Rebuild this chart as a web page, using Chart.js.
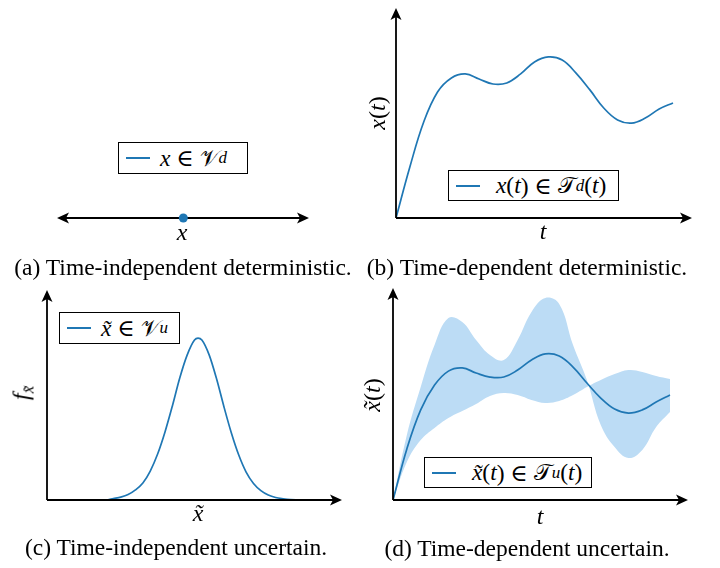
<!DOCTYPE html>
<html>
<head>
<meta charset="utf-8">
<script src="https://cdn.jsdelivr.net/npm/chart.js@4"></script>
<style>
  body { margin: 0; background: #fff; width: 720px; height: 568px; position: relative; overflow: hidden;
         font-family: "Liberation Serif", "DejaVu Serif", serif; color: #000; }
  .panel { position: absolute; width: 360px; height: 250px; }
  .cap { position: absolute; font-size: 23.5px; white-space: nowrap; transform: translate(-50%, -50%); }
  .lbl { position: absolute; font-size: 24px; font-style: italic; white-space: nowrap; transform: translate(-50%, -50%); }
  .rot { transform: translate(-50%, -50%) rotate(-90deg); }
  .legend { position: absolute; border: 1.5px solid #000; background: #fff; box-sizing: border-box;
            font-size: 23.5px; white-space: nowrap; display: flex; align-items: center; }
  .legend .sw { display: inline-block; width: 24px; border-top: 2px solid #1f77b4; margin: 0 10px 0 7px; }
  .cal { font-style: normal; font-family: "DejaVu Sans", "Noto Sans", sans-serif; font-size: 23px; }
  sub { font-size: 17px; vertical-align: -5px; line-height: 0; }
</style>
</head>
<body>
<canvas id="chartA" class="panel" style="left:0;top:0"></canvas>
<canvas id="chartB" class="panel" style="left:360px;top:0"></canvas>
<canvas id="chartC" class="panel" style="left:0;top:280px"></canvas>
<canvas id="chartD" class="panel" style="left:360px;top:280px"></canvas>

<!-- legends -->
<div class="legend" style="left:118px;top:142px;width:130px;height:32px"><span class="sw"></span><i>x</i>&nbsp;∈&nbsp;<span class="cal">𝒱</span><sub><i>d</i></sub></div>
<div class="legend" style="left:448px;top:170px;width:171px;height:31px"><span class="sw"></span>&nbsp;<i>x</i>(<i>t</i>)&nbsp;∈&nbsp;<span class="cal">𝒯</span><sub><i>d</i></sub>(<i>t</i>)</div>
<div class="legend" style="left:59px;top:312px;width:121px;height:32px"><span class="sw"></span><i>x̃</i>&nbsp;∈&nbsp;<span class="cal">𝒱</span><sub><i>u</i></sub></div>
<div class="legend" style="left:424px;top:457px;width:168px;height:31px"><span class="sw"></span>&nbsp;<i>x̃</i>(<i>t</i>)&nbsp;∈&nbsp;<span class="cal">𝒯</span><sub><i>u</i></sub>(<i>t</i>)</div>

<!-- axis labels -->
<div class="lbl" style="left:182px;top:232px">x</div>
<div class="lbl rot" style="left:377px;top:113px"><i>x</i><span style="font-style:normal">(</span>t<span style="font-style:normal">)</span></div>
<div class="lbl" style="left:543px;top:231px">t</div>
<div class="lbl rot" style="left:21px;top:393px">f<sub>x̃</sub></div>
<div class="lbl" style="left:198px;top:513px">x̃</div>
<div class="lbl rot" style="left:372px;top:395px">x̃<span style="font-style:normal">(</span>t<span style="font-style:normal">)</span></div>
<div class="lbl" style="left:540px;top:516px">t</div>

<!-- captions -->
<div class="cap" style="left:183px;top:267px">(a) Time-independent deterministic.</div>
<div class="cap" style="left:527px;top:267px">(b) Time-dependent deterministic.</div>
<div class="cap" style="left:176px;top:547px">(c) Time-independent uncertain.</div>
<div class="cap" style="left:527px;top:548px">(d) Time-dependent uncertain.</div>

<script>
// (a) a single deterministic value on a number line
const pointX = [0];
const pointY = [0];

// (b) and (d) time grid
const tGrid = [0, 0.5, 1, 1.5, 2, 2.5, 3, 3.5, 4, 4.5, 5, 5.5, 6, 6.5, 7, 7.5, 8, 8.5, 9, 9.5, 10];

// (b) deterministic trajectory
const xDet = [0, 2.43, 4.57, 6.0, 6.67, 6.86, 6.62, 6.38, 6.43, 6.86, 7.43, 7.67, 7.52, 6.90, 6.10, 5.24, 4.67, 4.52, 4.76, 5.19, 5.48];

// (d) mean trajectory and the two envelope curves of the uncertainty band
const xMean = [0, 2.41, 4.25, 5.42, 6.08, 6.23, 5.99, 5.80, 5.80, 6.13, 6.60, 6.89, 6.79, 6.27, 5.52, 4.81, 4.29, 4.10, 4.25, 4.62, 4.95];
const bandA = [0, 3.07, 5.33, 7.31, 8.58, 8.40, 7.55, 6.84, 6.60, 7.55, 8.87, 9.53, 9.25, 7.31, 5.66, 3.54, 2.50, 1.98, 2.36, 3.44, 4.15];
const bandB = [0, 1.79, 2.83, 3.40, 3.87, 4.20, 4.53, 4.91, 5.05, 4.95, 4.72, 4.58, 4.67, 4.95, 5.33, 5.66, 5.94, 6.13, 6.04, 5.85, 5.71];

// (c) probability density
const pdfX = [0, 1, 2, 2.25, 2.5, 2.75, 3, 3.25, 3.5, 3.75, 4, 4.25, 4.5, 4.75, 5, 5.12, 5.25, 5.5, 5.75, 6, 6.25, 6.5, 6.75, 7, 7.25, 7.5, 7.75, 8, 8.25, 8.5, 9, 9.5];
const pdfF = [0, 0, 0, 0.07, 0.14, 0.26, 0.48, 0.81, 1.38, 2.19, 3.24, 4.48, 5.81, 6.90, 7.62, 7.71, 7.62, 6.90, 5.76, 4.43, 3.19, 2.14, 1.33, 0.79, 0.45, 0.24, 0.12, 0.06, 0.02, 0.01, 0, 0];

const BLUE = '#1f77b4';
const BAND = '#bcdcf5';

function pairs(xs, ys) {
    return xs.map((x, i) => ({ x: x, y: ys[i] }));
}

function arrowHead(ctx, x, y, dir) {
    const len = 12, half = 5.5;
    ctx.beginPath();
    ctx.moveTo(x, y);
    if (dir === 'up') { ctx.lineTo(x - half, y + len); ctx.lineTo(x, y + len - 3); ctx.lineTo(x + half, y + len); }
    if (dir === 'right') { ctx.lineTo(x - len, y - half); ctx.lineTo(x - len + 3, y); ctx.lineTo(x - len, y + half); }
    if (dir === 'left') { ctx.lineTo(x + len, y - half); ctx.lineTo(x + len - 3, y); ctx.lineTo(x + len, y + half); }
    ctx.closePath();
    ctx.fill();
}

// axes with arrow tips, drawn from the chart's own scales
const arrowAxes = {
    id: 'arrowAxes',
    beforeDatasetsDraw(chart, args, opts) {
        if (opts.numberLine) this.draw(chart, opts);
    },
    afterDatasetsDraw(chart, args, opts) {
        if (!opts.numberLine) this.draw(chart, opts);
    },
    draw(chart, opts) {
        const { ctx, chartArea: a, scales } = chart;
        ctx.save();
        ctx.strokeStyle = '#000';
        ctx.fillStyle = '#000';
        ctx.lineWidth = 1.8;
        const y0 = scales.y.getPixelForValue(0);
        if (opts.numberLine) {
            ctx.beginPath();
            ctx.moveTo(a.left + 6, y0);
            ctx.lineTo(a.right - 6, y0);
            ctx.stroke();
            arrowHead(ctx, a.left, y0, 'left');
            arrowHead(ctx, a.right, y0, 'right');
        } else {
            const x0 = scales.x.getPixelForValue(0);
            ctx.beginPath();
            ctx.moveTo(x0, y0);
            ctx.lineTo(x0, a.top + 6);
            ctx.moveTo(x0, y0);
            ctx.lineTo(a.right - 6, y0);
            ctx.stroke();
            arrowHead(ctx, x0, a.top, 'up');
            arrowHead(ctx, a.right, y0, 'right');
        }
        ctx.restore();
    }
};

function baseOptions(pad, xMin, xMax, yMin, yMax, numberLine) {
    return {
        responsive: false,
        animation: false,
        layout: { padding: pad },
        plugins: {
            legend: { display: false },
            tooltip: { enabled: false },
            arrowAxes: { numberLine: numberLine }
        },
        scales: {
            x: { type: 'linear', display: false, min: xMin, max: xMax },
            y: { type: 'linear', display: false, min: yMin, max: yMax }
        }
    };
}

function makeCanvas(id) {
    const c = document.getElementById(id);
    c.width = 360;
    c.height = 250;
    return c;
}

// (a)
new Chart(makeCanvas('chartA'), {
    type: 'scatter',
    data: {
        datasets: [{
            data: pairs(pointX, pointY),
            pointRadius: 4.5,
            pointBackgroundColor: BLUE,
            pointBorderWidth: 0
        }]
    },
    options: baseOptions({ left: 57, right: 51, top: 198, bottom: 12 }, -1.005, 1, -1, 1, true),
    plugins: [arrowAxes]
});

// (b)
new Chart(makeCanvas('chartB'), {
    type: 'line',
    data: {
        datasets: [{
            data: pairs(tGrid, xDet),
            borderColor: BLUE,
            borderWidth: 1.7,
            pointRadius: 0,
            tension: 0.4,
            fill: false
        }]
    },
    options: baseOptions({ left: 36, right: 28, top: 8, bottom: 32 }, 0, 10.686, 0, 10, false),
    plugins: [arrowAxes]
});

// (c)
new Chart(makeCanvas('chartC'), {
    type: 'line',
    data: {
        datasets: [{
            data: pairs(pdfX, pdfF),
            borderColor: BLUE,
            borderWidth: 1.7,
            pointRadius: 0,
            cubicInterpolationMode: 'monotone',
            fill: false
        }]
    },
    options: baseOptions({ left: 47, right: 18, top: 10, bottom: 30 }, 0, 10, 0, 10, false),
    plugins: [arrowAxes]
});

// (d) mean first so it is drawn on top of the band
new Chart(makeCanvas('chartD'), {
    type: 'line',
    data: {
        datasets: [
            {
                data: pairs(tGrid, xMean),
                borderColor: BLUE,
                borderWidth: 1.7,
                pointRadius: 0,
                tension: 0.4,
                fill: false
            },
            {
                data: pairs(tGrid, bandA),
                borderWidth: 0,
                pointRadius: 0,
                tension: 0.4,
                fill: false
            },
            {
                data: pairs(tGrid, bandB),
                borderWidth: 0,
                pointRadius: 0,
                tension: 0.4,
                backgroundColor: BAND,
                fill: 1
            }
        ]
    },
    options: baseOptions({ left: 33, right: 32, top: 8, bottom: 30 }, 0, 10.65, 0, 10, false),
    plugins: [arrowAxes]
});
</script>
</body>
</html>
